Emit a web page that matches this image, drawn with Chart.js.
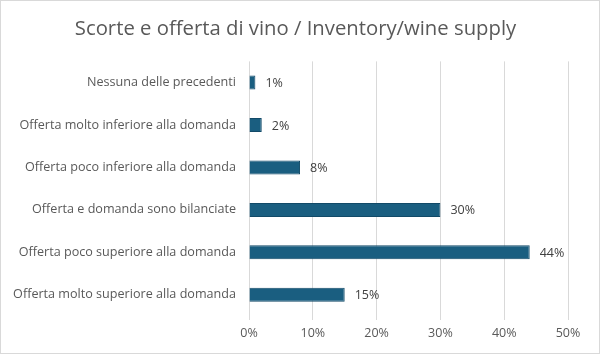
<!DOCTYPE html>
<html>
<head>
<meta charset="utf-8">
<script src="https://cdn.jsdelivr.net/npm/chart.js@4"></script>
<style>
  html, body { margin: 0; padding: 0; background: #fff; }
  #wrap { width: 600px; height: 354px; box-sizing: border-box; border: 1px solid #d9d9d9; }
  #chart { display: block; }
</style>
</head>
<body>
<div id="wrap"><canvas id="chart" width="598" height="352"></canvas></div>
<script>
// dati del grafico
const categorie = [
  'Nessuna delle precedenti',
  'Offerta molto inferiore alla domanda',
  'Offerta poco inferiore alla domanda',
  'Offerta e domanda sono bilanciate',
  'Offerta poco superiore alla domanda',
  'Offerta molto superiore alla domanda'
];
const percentuali = [1, 2, 8, 30, 44, 15];
const tickValori = [0, 10, 20, 30, 40, 50];

const FONT = '"Open Sans", "Liberation Sans", sans-serif';

// etichette accanto alle barre
const etichettePlugin = {
  id: 'etichette',
  afterDatasetsDraw(chart) {
    const ctx = chart.ctx;
    const meta = chart.getDatasetMeta(0);
    ctx.save();
    ctx.font = '12.5px ' + FONT;
    ctx.fillStyle = '#404040';
    ctx.textAlign = 'left';
    ctx.textBaseline = 'middle';
    meta.data.forEach((bar, i) => {
      ctx.fillText(percentuali[i] + '%', bar.x + 10, bar.y + 1);
    });
    ctx.restore();
  }
};

new Chart(document.getElementById('chart'), {
  type: 'bar',
  data: {
    labels: categorie,
    datasets: [{
      data: percentuali,
      backgroundColor: '#1a5e80',
      borderColor: '#124a68',
      borderWidth: 1,
      barPercentage: 0.33,
      categoryPercentage: 1
    }]
  },
  options: {
    indexAxis: 'y',
    responsive: false,
    animation: false,
    layout: { padding: { right: 9 } },
    plugins: {
      legend: { display: false },
      tooltip: { enabled: false },
      title: {
        display: true,
        text: 'Scorte e offerta di vino / Inventory/wine supply',
        color: '#595959',
        font: { family: FONT, size: 20.3, weight: 'normal' },
        padding: { top: 16, bottom: 20 }
      }
    },
    scales: {
      x: {
        min: 0,
        max: 50,
        afterBuildTicks: s => { s.ticks = tickValori.map(v => ({ value: v })); },
        afterFit: s => { s.height = 37; },
        grid: { color: '#d9d9d9', drawTicks: true, tickLength: 4, tickColor: '#d9d9d9' },
        border: { display: false },
        ticks: {
          color: '#595959',
          padding: 6,
          font: { family: FONT, size: 12.5 },
          callback: v => v + '%'
        }
      },
      y: {
        afterFit: s => { s.width = 248; },
        grid: { display: false, drawTicks: false },
        border: { display: false },
        ticks: {
          color: '#595959',
          padding: 13,
          font: { family: FONT, size: 12.6 }
        }
      },
      // margine destro vuoto
      destra: {
        type: 'linear',
        position: 'right',
        afterFit: s => { s.width = 22; },
        grid: { display: false, drawTicks: false },
        border: { display: false },
        ticks: { display: false }
      }
    }
  },
  plugins: [etichettePlugin]
});
</script>
</body>
</html>
